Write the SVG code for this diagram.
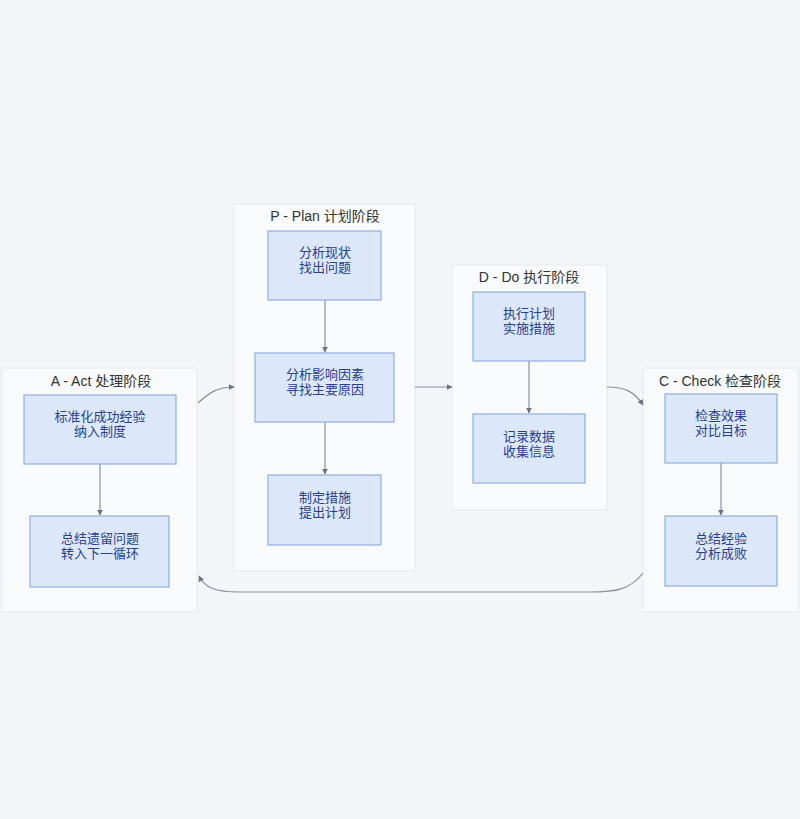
<svg xmlns="http://www.w3.org/2000/svg" width="800" height="819" viewBox="0 0 800 819">
<defs>
<marker id="arr" viewBox="0 0 10 10" refX="9" refY="5" markerWidth="6" markerHeight="6" orient="auto-start-reverse" markerUnits="userSpaceOnUse">
<path d="M0,0 L10,5 L0,10 z" fill="#6b7280"/>
</marker>
<style>
.cl{fill:#f9fafc;stroke:#e6e9ef;stroke-width:1}
.nd{fill:#dce8fa;stroke:#8eaee0;stroke-width:1.2}
.tt{font-family:"Liberation Sans","Noto Sans CJK SC",sans-serif;font-size:14px;fill:#333;text-anchor:middle}
.nt{font-family:"Liberation Sans","Noto Sans CJK SC",sans-serif;font-size:13px;fill:#2a3f8f;text-anchor:middle}
.e{fill:none;stroke:#8a8f99;stroke-width:1.2}
</style>
</defs>
<rect width="800" height="819" fill="#f3f5f8"/>
<g id="cluster-A">
<rect class="cl" x="2" y="368" width="195" height="244"/>
<text class="tt" x="101" y="386">A - Act 处理阶段</text>
</g>
<g id="cluster-P">
<rect class="cl" x="234" y="204" width="181" height="367"/>
<text class="tt" x="325" y="221">P - Plan 计划阶段</text>
</g>
<g id="cluster-D">
<rect class="cl" x="452" y="265" width="155" height="245"/>
<text class="tt" x="529" y="282">D - Do 执行阶段</text>
</g>
<g id="cluster-C">
<rect class="cl" x="643" y="368" width="155" height="244"/>
<text class="tt" x="720" y="386">C - Check 检查阶段</text>
</g>
<g id="connectors">
<path class="e" d="M100,464 V515" marker-end="url(#arr)"/>
<path class="e" d="M325,300 V352" marker-end="url(#arr)"/>
<path class="e" d="M325,422 V474" marker-end="url(#arr)"/>
<path class="e" d="M529,361 V413" marker-end="url(#arr)"/>
<path class="e" d="M721,463 V515" marker-end="url(#arr)"/>
<path class="e" d="M415,387 H452" marker-end="url(#arr)"/>
<path class="e" d="M607,387 C625,387 635,392 643,405" marker-end="url(#arr)"/>
<path class="e" d="M643,573 C630,590 615,592 590,592 H240 C215,592 205,588 199,576" marker-end="url(#arr)"/>
<path class="e" d="M198,403 C210,392 218,387 234,387" marker-end="url(#arr)"/>
</g>
<g id="A1">
<rect class="nd" x="24" y="395" width="152" height="69"/>
<text class="nt" x="100" y="421">标准化成功经验<tspan x="100" dy="15">纳入制度</tspan></text>
</g>
<g id="A2">
<rect class="nd" x="30" y="516" width="139" height="71"/>
<text class="nt" x="100" y="543">总结遗留问题<tspan x="100" dy="15">转入下一循环</tspan></text>
</g>
<g id="P1">
<rect class="nd" x="268" y="231" width="113" height="69"/>
<text class="nt" x="325" y="257">分析现状<tspan x="325" dy="15">找出问题</tspan></text>
</g>
<g id="P2">
<rect class="nd" x="255" y="353" width="139" height="69"/>
<text class="nt" x="325" y="379">分析影响因素<tspan x="325" dy="15">寻找主要原因</tspan></text>
</g>
<g id="P3">
<rect class="nd" x="268" y="475" width="113" height="70"/>
<text class="nt" x="325" y="502">制定措施<tspan x="325" dy="15">提出计划</tspan></text>
</g>
<g id="D1">
<rect class="nd" x="473" y="292" width="112" height="69"/>
<text class="nt" x="529" y="318">执行计划<tspan x="529" dy="15">实施措施</tspan></text>
</g>
<g id="D2">
<rect class="nd" x="473" y="414" width="112" height="69"/>
<text class="nt" x="529" y="441">记录数据<tspan x="529" dy="15">收集信息</tspan></text>
</g>
<g id="C1">
<rect class="nd" x="665" y="394" width="112" height="69"/>
<text class="nt" x="721" y="420">检查效果<tspan x="721" dy="15">对比目标</tspan></text>
</g>
<g id="C2">
<rect class="nd" x="665" y="516" width="112" height="70"/>
<text class="nt" x="721" y="543">总结经验<tspan x="721" dy="15">分析成败</tspan></text>
</g>
</svg>
